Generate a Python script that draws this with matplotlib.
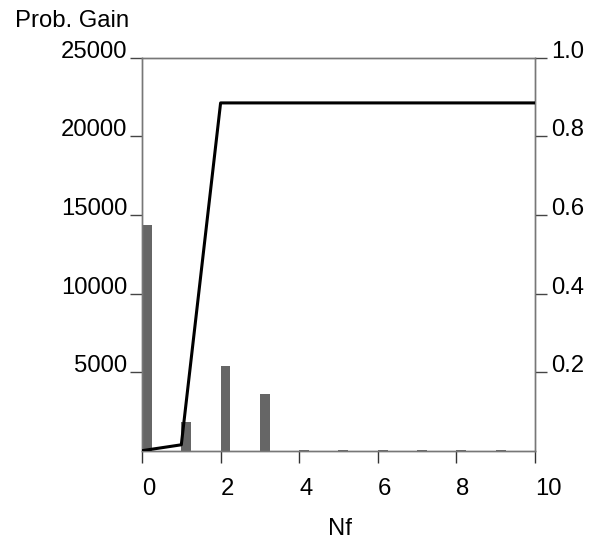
import matplotlib
matplotlib.use('Agg')
import matplotlib.pyplot as plt

plt.rcParams['font.family'] = ['Liberation Sans', 'DejaVu Sans']

# bar series (left axis) and probability line (right axis)
nf = [0, 1, 2, 3, 4, 5, 6, 7, 8, 9]
gain = [14350, 1850, 5400, 3620, 15, 15, 15, 15, 15, 15]
line_x = [0, 1, 2, 10]
line_p = [0.0, 0.015, 0.885, 0.885]

left_ticks = [5000, 10000, 15000, 20000, 25000]
right_ticks = [0.2, 0.4, 0.6, 0.8, 1.0]
x_ticks = [0, 2, 4, 6, 8, 10]

fs = 17.2
spine_col = '#777777'

fig = plt.figure(figsize=(5.89, 5.40), dpi=100)
ax = fig.add_axes([0.2411, 0.1654, 0.9083 - 0.2411, 0.8931 - 0.1654])
ax.bar(nf, gain, width=0.25, align='edge', color='#666666', zorder=2)
ax.set_xlim(0, 10)
ax.set_ylim(0, 25000)

ax2 = ax.twinx()
ax2.plot(line_x, line_p, color='black', lw=2.2, zorder=3)
ax2.set_ylim(0, 1.0)

for a in (ax, ax2):
    for s in a.spines.values():
        s.set_color(spine_col)
        s.set_linewidth(1.0)

ax.set_xticks(x_ticks)
ax.set_xticklabels([str(t) for t in x_ticks])
ax.tick_params(axis='x', direction='out', length=8.6, width=1.0, color='#333333',
               labelsize=fs, pad=11)
for lab in ax.get_xticklabels():
    lab.set_ha('left')

ax.set_yticks(left_ticks)
ax.set_yticklabels([str(t) for t in left_ticks])
ax.tick_params(axis='y', direction='out', length=8.6, width=1.0, color='#444444',
               labelsize=fs, pad=2)
for lab in ax.get_yticklabels():
    lab.set_va('baseline')

ax2.set_yticks(right_ticks)
ax2.set_yticklabels(['%.1f' % t for t in right_ticks])
ax2.tick_params(axis='y', direction='out', length=8.6, width=1.0, color='#444444',
                labelsize=fs, pad=3)
for lab in ax2.get_yticklabels():
    lab.set_va('baseline')

ax.set_zorder(ax2.get_zorder() - 1)
ax2.patch.set_visible(False)

fig.text(15 / 589, 1 - 26.7 / 540, 'Prob. Gain', fontsize=fs, ha='left', va='baseline')
fig.text(0.577, 1 - 535 / 540, 'Nf', fontsize=fs, ha='center', va='baseline')

fig.savefig('out.png', dpi=100)
